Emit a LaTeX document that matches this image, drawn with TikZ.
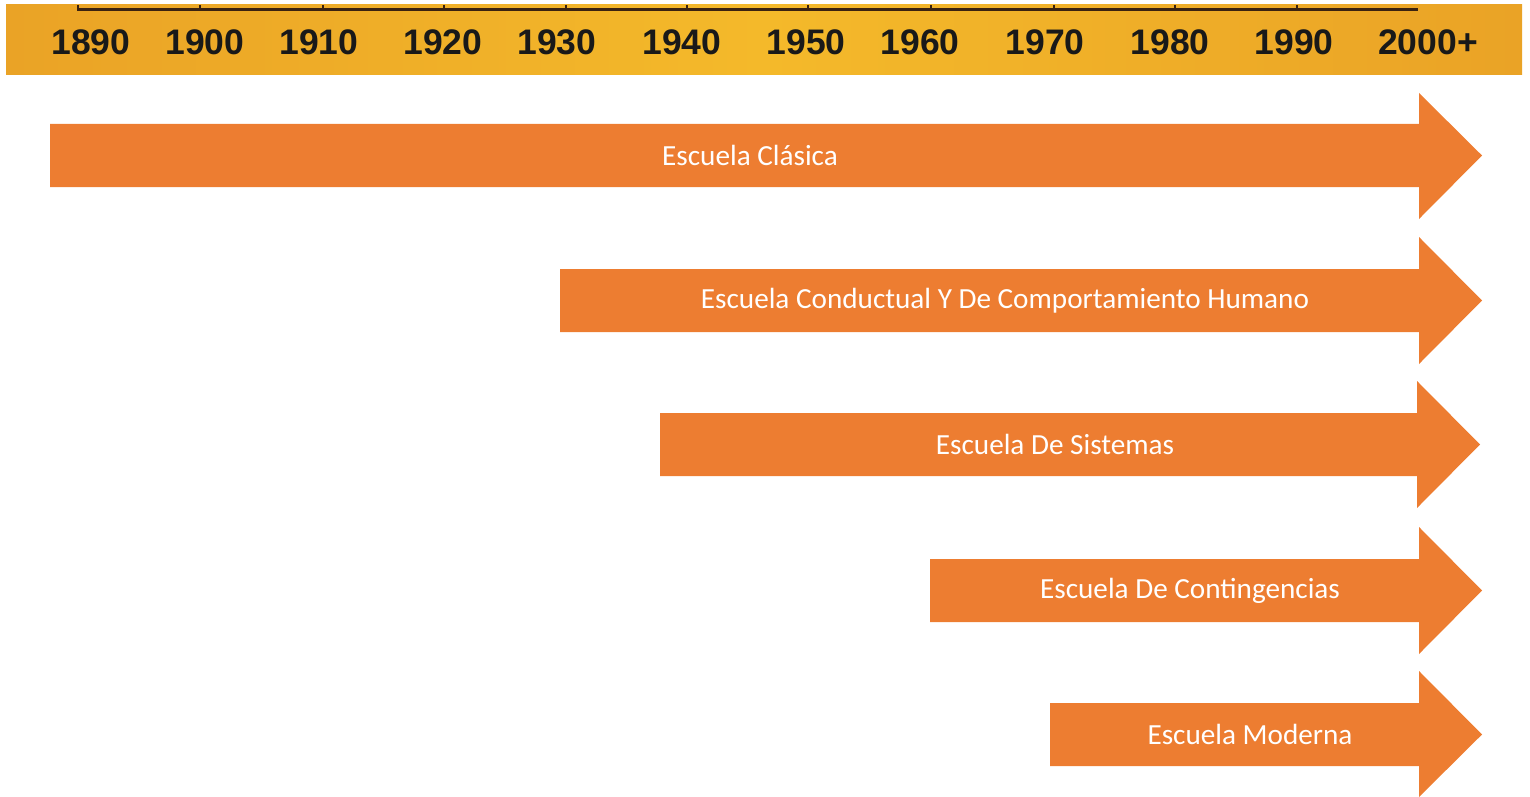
\documentclass[tikz,border=0pt]{standalone}
\usepackage{fontspec}
\setmainfont{Carlito}
\newfontfamily\yearfont{Liberation Sans}
\usepackage{tikz}
\definecolor{arroworange}{HTML}{ED7D31}
\definecolor{bandyellow}{HTML}{F4B92A}
\definecolor{bandedge}{HTML}{EAA326}
\definecolor{rulebrown}{HTML}{3A2210}

\begin{document}
\begin{tikzpicture}[x=1pt, y=-1pt,
	year/.style={font=\yearfont\bfseries\fontsize{35.5}{38}\selectfont, text=black!90, inner sep=0pt},
	school/.style={font=\fontsize{29.2}{32}\selectfont, text=white, inner sep=0pt},
	band/.style={fill=arroworange, draw=none}]
	\useasboundingbox (0,0) rectangle (1530,797);
	% timeline band
	\shade[left color=bandedge, right color=bandedge, middle color=bandyellow] (6,5) rectangle (1522,75);
	\draw[rulebrown, line width=3pt] (77,10) -- (1418,10);
	\draw[rulebrown, line width=2pt] (78,5) -- (78,10);
	\draw[rulebrown, line width=2pt] (200,5) -- (200,10);
	\draw[rulebrown, line width=2pt] (323,5) -- (323,10);
	\draw[rulebrown, line width=2pt] (444,5) -- (444,10);
	\draw[rulebrown, line width=2pt] (566,5) -- (566,10);
	\draw[rulebrown, line width=2pt] (687,5) -- (687,10);
	\draw[rulebrown, line width=2pt] (808,5) -- (808,10);
	\draw[rulebrown, line width=2pt] (931,5) -- (931,10);
	\draw[rulebrown, line width=2pt] (1054,5) -- (1054,10);
	\draw[rulebrown, line width=2pt] (1175,5) -- (1175,10);
	\draw[rulebrown, line width=2pt] (1297,5) -- (1297,10);
	\node[year] (y1890) at (91,42) {1890};
	\node[year] (y1900) at (205,42) {1900};
	\node[year] (y1910) at (319,42) {1910};
	\node[year] (y1920) at (443,42) {1920};
	\node[year] (y1930) at (557,42) {1930};
	\node[year] (y1940) at (682,42) {1940};
	\node[year] (y1950) at (806,42) {1950};
	\node[year] (y1960) at (920,42) {1960};
	\node[year] (y1970) at (1045,42) {1970};
	\node[year] (y1980) at (1170,42) {1980};
	\node[year] (y1990) at (1294,42) {1990};
	\node[year] (y2000) at (1428,42) {2000+};
	% arrows
	\fill[band] (50,124) -- (1419,124) -- (1419,93) -- (1482,155.5) -- (1419,219) -- (1419,187) -- (50,187) -- cycle;
	\fill[band] (560,269) -- (1419,269) -- (1419,237) -- (1482,300.5) -- (1419,364) -- (1419,332) -- (560,332) -- cycle;
	\fill[band] (660,413) -- (1417,413) -- (1417,381) -- (1480,444.5) -- (1417,508) -- (1417,476) -- (660,476) -- cycle;
	\fill[band] (930,559) -- (1419,559) -- (1419,527) -- (1482,590.5) -- (1419,654) -- (1419,622) -- (930,622) -- cycle;
	\fill[band] (1050,703) -- (1419,703) -- (1419,671) -- (1482,734.5) -- (1419,797) -- (1419,766) -- (1050,766) -- cycle;
	\node[school] (clasica) at (750,155.5) {Escuela Clásica};
	\node[school] (conductual) at (1005,300.5) {Escuela Conductual Y De Comportamiento Humano};
	\node[school] (sistemas) at (1055,444.5) {Escuela De Sistemas};
	\node[school] (contingencias) at (1190,590.5) {Escuela De Contingencias};
	\node[school] (moderna) at (1250,734.5) {Escuela Moderna};
\end{tikzpicture}
\end{document}
